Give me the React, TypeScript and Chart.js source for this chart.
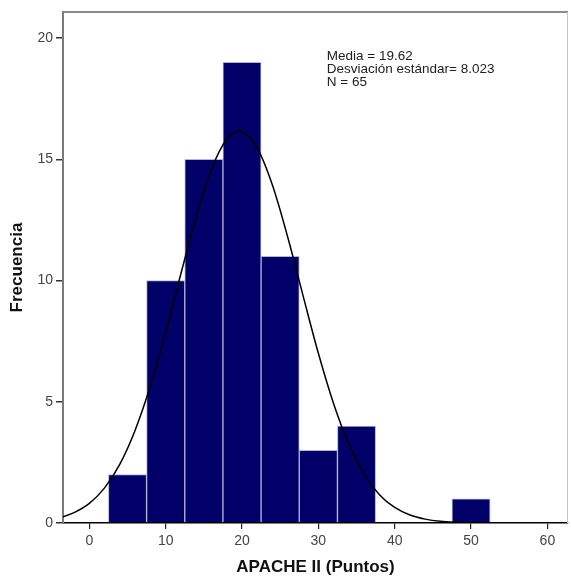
import React, { useEffect, useRef } from "react";
import { Chart, registerables } from "chart.js";

Chart.register(...registerables);

const binCenters = [5, 10, 15, 20, 25, 30, 35, 40, 45, 50];
const frequencies = [2, 10, 15, 19, 11, 3, 4, 0, 0, 1];

const curveX = [-3.45, -2, 0, 2, 4, 6, 8, 10, 12, 14, 16, 18, 19.62, 20, 22, 24, 26, 28, 30, 32, 34, 36, 38, 40, 42, 44, 46, 48, 50, 52, 56, 62.7];
const curveY = [0.26, 0.43, 0.81, 1.45, 2.43, 3.83, 5.66, 7.88, 10.29, 12.65, 14.6, 15.83, 16.16, 16.14, 15.46, 13.92, 11.78, 9.37, 7.0, 4.92, 3.24, 2.01, 1.17, 0.64, 0.33, 0.16, 0.07, 0.03, 0.01, 0.005, 0.001, 0];

const xTickValues = [0, 10, 20, 30, 40, 50, 60];
const yTickValues = [0, 5, 10, 15, 20];

const statsLines = ["Media = 19.62", "Desviación estándar= 8.023", "N = 65"];
const xTitle = "APACHE II (Puntos)";
const yTitle = "Frecuencia";

const FONT = "'Liberation Sans', Arial, sans-serif";

export default function App() {
  const ref = useRef<HTMLCanvasElement | null>(null);

  useEffect(() => {
    if (!ref.current) return;

    const framePlugin = {
      id: "frame",
      afterDatasetsDraw(chart: any) {
        const { ctx, chartArea } = chart;
        ctx.save();
        ctx.strokeStyle = "#8a8a8a";
        ctx.lineWidth = 2;
        ctx.beginPath();
        ctx.moveTo(chartArea.left, chartArea.top);
        ctx.lineTo(chartArea.right, chartArea.top);
        ctx.stroke();
        ctx.strokeStyle = "#c4c4c4";
        ctx.lineWidth = 1;
        ctx.beginPath();
        ctx.moveTo(chartArea.right - 0.5, chartArea.top);
        ctx.lineTo(chartArea.right - 0.5, chartArea.bottom);
        ctx.stroke();
        const xs = chart.scales.x;
        const ys = chart.scales.y;
        const tx = xs.getPixelForValue(31.1);
        const ty = ys.getPixelForValue(19.27);
        ctx.fillStyle = "#222";
        ctx.font = `13.5px ${FONT}`;
        ctx.textBaseline = "middle";
        ctx.textAlign = "left";
        statsLines.forEach((s, i) => ctx.fillText(s, tx, ty + i * 13));
        ctx.restore();
      },
    };

    const setTicks = (values: number[]) => (scale: any) => {
      scale.ticks = values.map((v) => ({ value: v }));
    };

    const chart = new Chart(ref.current, {
      type: "bar",
      data: {
        datasets: [
          {
            type: "line",
            data: curveX.map((x, i) => ({ x, y: curveY[i] })),
            borderColor: "#000",
            borderWidth: 1.5,
            pointRadius: 0,
            cubicInterpolationMode: "monotone",
            fill: false,
            order: 0,
          } as any,
          {
            type: "bar",
            data: binCenters.map((x, i) => ({ x, y: frequencies[i] })),
            backgroundColor: "#000068",
            borderColor: "#b4b4d6",
            borderWidth: 1,
            barPercentage: 1,
            categoryPercentage: 1,
            order: 1,
          } as any,
        ],
      },
      options: {
        animation: false,
        responsive: true,
        maintainAspectRatio: false,
        layout: { padding: { top: 12, right: 3, left: 0, bottom: 0 } },
        plugins: { legend: { display: false }, tooltip: { enabled: false } },
        scales: {
          x: {
            type: "linear",
            offset: false,
            min: -3.45,
            max: 62.7,
            afterBuildTicks: setTicks(xTickValues),
            afterFit: (s: any) => { s.height = 56; },
            ticks: { autoSkip: false, color: "#444", font: { family: FONT, size: 14 }, padding: 4, maxRotation: 0 },
            grid: { offset: false, drawOnChartArea: false, drawTicks: true, tickLength: 6, color: "#222", lineWidth: 1.2 },
            border: { display: true, color: "#000", width: 1.5 },
            title: { display: true, text: xTitle, color: "#111", font: { family: FONT, size: 17, weight: "bold" }, padding: { top: 0, bottom: 1 } },
          },
          y: {
            type: "linear",
            min: 0,
            max: 21.08,
            afterBuildTicks: setTicks(yTickValues),
            afterFit: (s: any) => { s.width = 63; },
            ticks: { autoSkip: false, color: "#444", font: { family: FONT, size: 14 }, padding: 3 },
            grid: { drawOnChartArea: false, drawTicks: true, tickLength: 7, color: "#333", lineWidth: 1.5 },
            border: { display: true, color: "#7a7a7a", width: 2 },
            title: { display: true, text: yTitle, color: "#111", font: { family: FONT, size: 17, weight: "bold" }, padding: { top: 7, bottom: 0 } },
          },
        },
      },
      plugins: [framePlugin],
    });

    return () => chart.destroy();
  }, []);

  return (
    <div style={{ position: "absolute", left: 0, top: 0, width: 571, height: 579, background: "#fff" }}>
      <canvas ref={ref} />
    </div>
  );
}
